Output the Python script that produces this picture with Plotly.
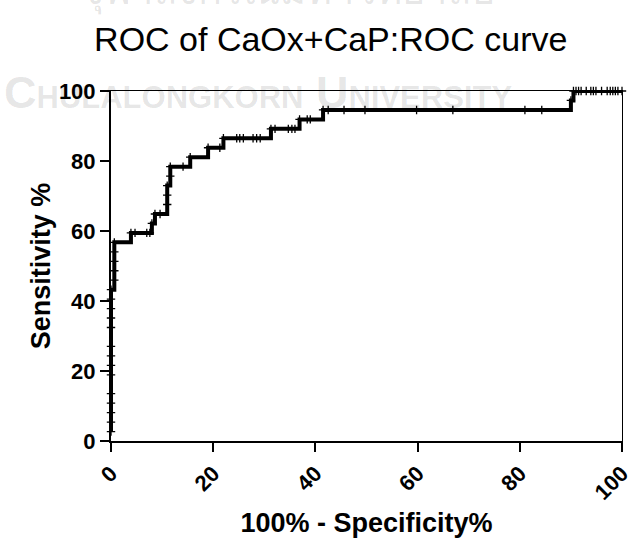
import plotly.graph_objects as go

# ROC points: 100% - Specificity% (x) and Sensitivity% (y)
fpr = [0, 0, 0, 0, 0, 0, 0, 0, 0, 0, 0, 0, 0, 0,
       0.65, 0.65, 0.65, 0.65, 0.65,
       3.9, 4.7, 7.0, 7.6,
       8.0, 8.6, 9.6,
       11.0, 11.0, 11.0, 11.6, 11.6, 14.1,
       15.5, 19.0, 21.3,
       22.0, 24.6, 25.2, 25.9, 27.8, 28.5, 29.2,
       31.3, 32.1, 34.7, 35.4, 36.0,
       36.9, 38.4, 39.0,
       41.5, 42.5, 45.6, 49.7, 59.8, 66.9, 81.0, 84.3,
       90.0, 90.5, 91.0, 91.5, 92.0, 93.0, 93.9, 94.4, 94.9, 96.0,
       97.1, 97.7, 98.2, 98.7, 99.2, 100]
sens = [2.70, 5.41, 8.11, 10.81, 13.51, 18.92, 21.62, 24.32, 27.03, 32.43,
        35.14, 37.84, 40.54, 43.24,
        45.95, 48.65, 51.35, 54.05, 56.76,
        59.46, 59.46, 59.46, 59.46,
        62.16, 64.86, 64.86,
        67.57, 70.27, 72.97, 75.68, 78.38, 78.38,
        81.08, 83.78, 83.78,
        86.49, 86.49, 86.49, 86.49, 86.49, 86.49, 86.49,
        89.19, 89.19, 89.19, 89.19, 89.19,
        91.89, 91.89, 91.89,
        94.59, 94.59, 94.59, 94.59, 94.59, 94.59, 94.59, 94.59,
        97.30, 100, 100, 100, 100, 100, 100, 100, 100, 100,
        100, 100, 100, 100, 100, 100]

tick_vals = [0, 20, 40, 60, 80, 100]
tick_text = ["0", "20", "40", "60", "80", "100"]

title_text = "ROC of CaOx+CaP:ROC curve"
x_title = "100% - Specificity%"
y_title = "Sensitivity %"

FONT = "Liberation Sans"
WM = "rgba(0,0,0,0.11)"

fig = go.Figure()
fig.add_trace(go.Scatter(
    x=fpr, y=sens, mode="lines+markers",
    line=dict(color="black", width=4, shape="hv"),
    marker=dict(symbol="cross-thin", size=6, color="black",
                line=dict(color="black", width=1.3)),
    cliponaxis=False, showlegend=False, hoverinfo="skip"))
# frame (top/right) axes carrier
fig.add_trace(go.Scatter(x=[], y=[], xaxis="x2", yaxis="y2",
                         showlegend=False, hoverinfo="skip"))

axis_common = dict(range=[0, 100], showgrid=False, zeroline=False,
                   showline=True, linecolor="black", linewidth=2,
                   ticks="outside", ticklen=9, tickwidth=2, tickcolor="black",
                   tickvals=tick_vals, ticktext=tick_text,
                   ticklabeloverflow="allow", automargin=False,
                   tickfont=dict(family=FONT, size=22, color="black", weight="bold"))

fig.update_layout(
    width=630, height=543,
    margin=dict(l=111, r=8, t=91, b=102),
    paper_bgcolor="white", plot_bgcolor="white",
    title=dict(text=title_text, x=0.525, xanchor="center", xref="container",
               y=1 - 39 / 543, yanchor="middle", yref="container",
               font=dict(family=FONT, size=34, color="black")),
    xaxis=dict(**axis_common, tickangle=-45,
               title=dict(text=x_title, standoff=9,
                          font=dict(family=FONT, size=27, color="black", weight="bold"))),
    yaxis=dict(**axis_common,
               title=dict(text=y_title, standoff=0,
                          font=dict(family=FONT, size=27, color="black", weight="bold"))),
    xaxis2=dict(range=[0, 100], overlaying="x", side="top", anchor="y",
                showline=True, linecolor="black", linewidth=1.3, automargin=False,
                showgrid=False, zeroline=False, ticks="", showticklabels=False),
    yaxis2=dict(range=[0, 100], overlaying="y", side="right", anchor="x",
                showline=True, linecolor="black", linewidth=1.3, automargin=False,
                showgrid=False, zeroline=False, ticks="", showticklabels=False),
)

# faint watermark text
fig.add_annotation(text="จุฬาลงกรณ์มหาวิทยาลัย", xref="paper", yref="paper",
                   x=(288 - 111) / 511, y=(441 + 8) / 350, xanchor="center", yanchor="middle",
                   showarrow=False, font=dict(family=FONT, size=40, color=WM))
fig.add_annotation(
    text="C<span style='font-size:31px'>HULALONGKORN</span> U<span style='font-size:31px'>NIVERSITY</span>",
    xref="paper", yref="paper", x=(2 - 111) / 511, y=(441 - 93) / 350,
    xanchor="left", yanchor="middle", showarrow=False,
    font=dict(family=FONT, size=45, color=WM, weight="bold"))

fig.write_html("out.html")
